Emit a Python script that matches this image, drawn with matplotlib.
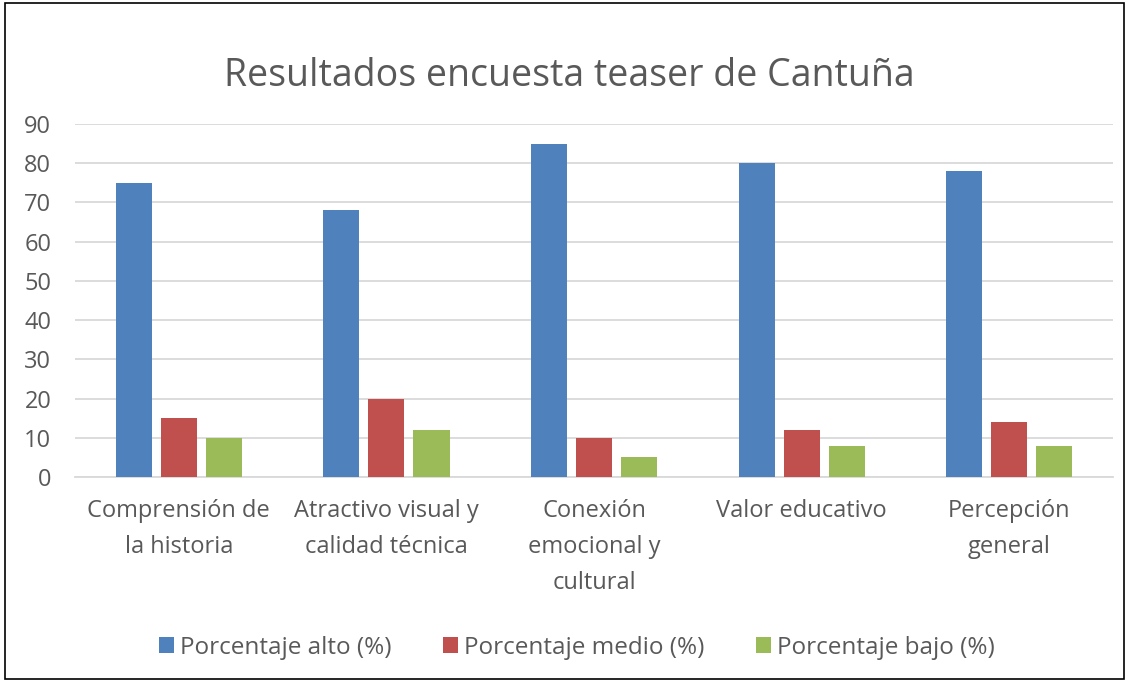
import numpy as np
import matplotlib
matplotlib.use('Agg')
import matplotlib.pyplot as plt
from matplotlib.patches import Rectangle

# ---------------------- data -----------------------------
categories = ['Comprensión de\nla historia', 'Atractivo visual y\ncalidad técnica',
              'Conexión\nemocional y\ncultural', 'Valor educativo', 'Percepción\ngeneral']
alto = [75, 68, 85, 80, 78]
medio = [15, 20, 10, 12, 14]
bajo = [10, 12, 5, 8, 8]
series_names = ['Porcentaje alto (%)', 'Porcentaje medio (%)', 'Porcentaje bajo (%)']
colors = ['#4F81BD', '#C0504D', '#9BBB59']

# ---------------------- plotting -----------------------------
plt.rcParams['font.family'] = ['Open Sans', 'DejaVu Sans']
text_col = '#595959'

fig = plt.figure(figsize=(11.29, 6.82), dpi=100)
ax = fig.add_axes([0.0664, 0.3006, 0.9195, 0.5176])

x = np.arange(len(categories))
step = 0.217
width = 0.174
for i, (vals, name, col) in enumerate(zip([alto, medio, bajo], series_names, colors)):
    ax.bar(x + (i - 1) * step, vals, width, color=col, label=name, zorder=3)

ax.set_xlim(-0.5, len(categories) - 0.5)
ax.set_ylim(0, 90)
ax.set_yticks(range(0, 91, 10))
ax.grid(axis='y', color='#D9D9D9', lw=1.3, zorder=0)
for s in ['top', 'right', 'left']:
    ax.spines[s].set_visible(False)
ax.spines['bottom'].set_color('#D9D9D9')
ax.spines['bottom'].set_linewidth(1.3)
ax.tick_params(axis='both', length=0, colors=text_col, labelsize=17)
ax.tick_params(axis='x', pad=16)
ax.tick_params(axis='y', pad=17)
ax.set_xticks(x)
ax.set_xticklabels(categories, linespacing=1.65)

fig.text(0.504, 0.889, 'Resultados encuesta teaser de Cantuña', ha='center', va='center',
         fontsize=27, color=text_col)

fig.legend(loc='center', bbox_to_anchor=(0.511, 0.05), ncol=3, frameon=False,
           fontsize=17.5, handlelength=0.62, handleheight=0.62, columnspacing=2.1,
           handletextpad=0.25, labelcolor=text_col)

fig.patches.append(Rectangle((0.004, 0.005), 0.992, 0.99, transform=fig.transFigure,
                             fill=False, edgecolor='black', lw=1.2))

fig.savefig('out.png', dpi=100)
